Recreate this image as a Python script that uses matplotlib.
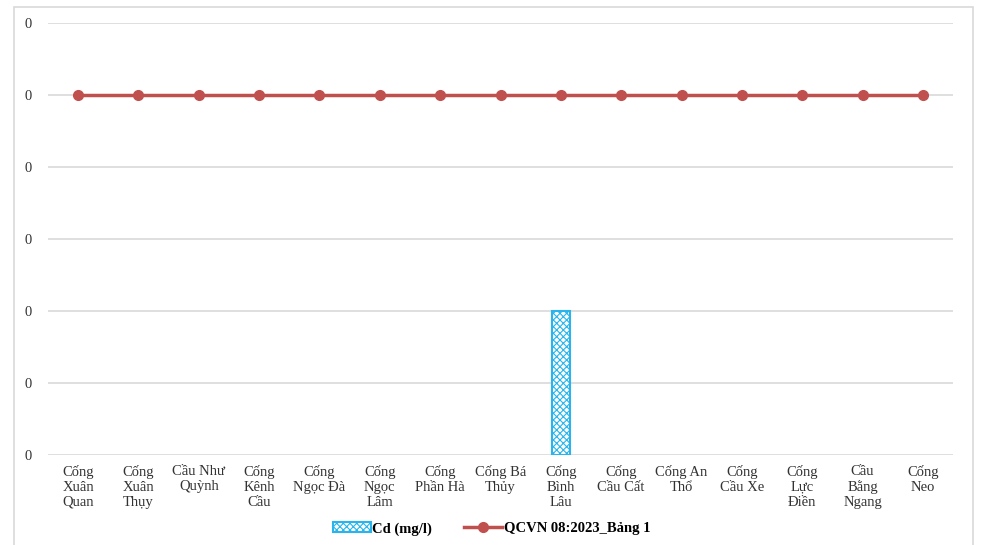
import numpy as np
import matplotlib.pyplot as plt
from matplotlib.patches import Rectangle
from matplotlib.ticker import FuncFormatter

plt.rcParams['font.family'] = ['Liberation Serif', 'DejaVu Serif']
plt.rcParams['hatch.linewidth'] = 0.8

# tick labels, wrapped as in the original chart
sites = ['Cống\nXuân\nQuan', 'Cống\nXuân\nThụy', 'Cầu Như\nQuỳnh', 'Cống\nKênh\nCầu',
         'Cống\nNgọc Đà', 'Cống\nNgọc\nLâm', 'Cống\nPhần Hà', 'Cống Bá\nThủy',
         'Cống\nBình\nLâu', 'Cống\nCầu Cất', 'Cống An\nThổ', 'Cống\nCầu Xe',
         'Cống\nLực\nĐiền', 'Cầu\nBằng\nNgang', 'Cống\nNeo']
cd = [0, 0, 0, 0, 0, 0, 0, 0, 0.002, 0, 0, 0, 0, 0, 0]
qcvn = [0.005] * 15

fig = plt.figure(figsize=(9.81, 5.45), dpi=100)
ax = fig.add_axes([0.0489, 0.1651, 0.9226, 0.7927])

# outer chart border
fig.patches.append(Rectangle((14 / 981, -0.01), (973 - 14) / 981, 1 - 7 / 545 + 0.01,
                             transform=fig.transFigure, fill=False,
                             edgecolor='#d9d9d9', linewidth=1.2))

x = np.arange(len(sites))
cd_arr = np.array(cd)
nz = cd_arr > 0  # zero-height bars draw nothing in Excel
bars = ax.bar(x[nz], cd_arr[nz], width=0.3, color='white', edgecolor='#29b5ec',
              hatch='xxxxx', linewidth=1.5, label='Cd (mg/l)', zorder=2)
line, = ax.plot(x, qcvn, color='#c0504d', linewidth=2.5, marker='o', markersize=7,
                label='QCVN 08:2023_Bảng 1', zorder=3)

ax.set_xlim(-0.5, len(sites) - 0.5)
ax.set_ylim(0, 0.006)
ax.set_yticks(np.arange(0, 0.0061, 0.001))
ax.yaxis.set_major_formatter(FuncFormatter(lambda v, p: '0'))
ax.set_xticks(x)
ax.set_xticklabels(sites, fontsize=10.5, linespacing=1.2)
ax.tick_params(axis='both', length=0, labelsize=10.5, labelcolor='#333333')
ax.tick_params(axis='y', pad=14)
ax.tick_params(axis='x', pad=7)
for lbl in ax.get_yticklabels():
    lbl.set_horizontalalignment('center')
ax.grid(axis='y', color='#d9d9d9', linewidth=1.2, zorder=0)
for s in ax.spines.values():
    s.set_visible(False)

ax.legend([bars, line], ['Cd (mg/l)', 'QCVN 08:2023_Bảng 1'],
          loc='upper center', bbox_to_anchor=(0.49, -0.125), ncol=2,
          frameon=False, prop={'weight': 'bold', 'size': 10.5},
          handlelength=2.6, handletextpad=0.1, columnspacing=2.2)

fig.savefig('out.png', dpi=100)
